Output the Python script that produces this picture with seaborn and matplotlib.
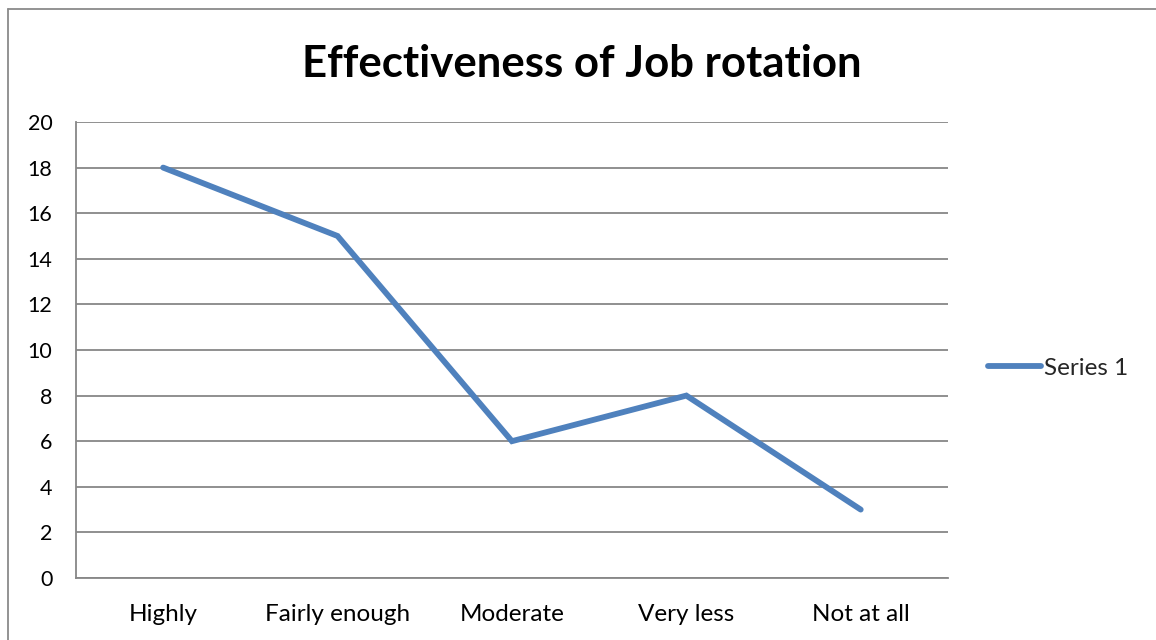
import matplotlib
matplotlib.use("Agg")
import matplotlib.pyplot as plt
import seaborn as sns
import pandas as pd
from matplotlib.lines import Line2D

categories = ["Highly", "Fairly enough", "Moderate", "Very less", "Not at all"]
series_1 = [18, 15, 6, 8, 3]
y_ticks = [0, 2, 4, 6, 8, 10, 12, 14, 16, 18, 20]

sns.set_theme(style="white")
plt.rcParams["font.family"] = ["Lato", "DejaVu Sans"]

df = pd.DataFrame({"category": categories, "value": series_1})
df["pos"] = range(len(categories))

fig = plt.figure(figsize=(11.56, 6.4), dpi=100)
ax = fig.add_axes([0.0657, 0.0969, 0.7543, 0.7125])

line_color = "#4F81BD"
grid_color = "#878787"
label_size = 17.5

sns.lineplot(data=df, x="pos", y="value", ax=ax, color=line_color,
             linewidth=4.2, sort=False, solid_capstyle="round",
             solid_joinstyle="miter", legend=False)

ax.set_xlim(-0.5, len(categories) - 0.5)
ax.set_ylim(0, 20)
ax.set_yticks(y_ticks)
ax.set_yticklabels([str(v) for v in y_ticks], fontsize=15.5, color="black")
ax.yaxis.grid(True, color=grid_color, linewidth=1.3)
ax.set_axisbelow(True)

# category boundaries carry tick marks, labels sit at the centres
ax.set_xticks([i - 0.5 for i in range(len(categories) + 1)])
ax.set_xticklabels([])
ax.set_xticks(range(len(categories)), minor=True)
ax.set_xticklabels(categories, minor=True, fontsize=label_size, color="black")
ax.tick_params(axis="x", which="major", length=7, width=1.3, color=grid_color, direction="out")
ax.tick_params(axis="x", which="minor", length=0, pad=19)
ax.tick_params(axis="y", length=7, width=1.3, color=grid_color, direction="out", pad=10)
ax.set_xlabel("")
ax.set_ylabel("")

for side in ["top", "right"]:
    ax.spines[side].set_visible(False)
for side in ["left", "bottom"]:
    ax.spines[side].set_color(grid_color)
    ax.spines[side].set_linewidth(1.3)

fig.text(0.503, 0.900, "Effectiveness of Job rotation", ha="center", va="center",
         fontsize=31.5, fontweight="bold", color="black")

handle = Line2D([], [], color=line_color, linewidth=4.2, solid_capstyle="round")
fig.legend([handle], ["Series 1"], loc="center left", bbox_to_anchor=(0.846, 0.425),
           frameon=False, fontsize=label_size, handlelength=2.2, handletextpad=0.12,
           borderaxespad=0)

# outer chart frame (left and top edges visible)
fig.add_artist(Line2D([0.0065, 0.0065], [0.0, 0.986], transform=fig.transFigure,
                      color="#8a8a8a", linewidth=1.3))
fig.add_artist(Line2D([0.0065, 1.0], [0.986, 0.986], transform=fig.transFigure,
                      color="#8a8a8a", linewidth=1.3))

fig.savefig("out.png", dpi=100, facecolor="white")
